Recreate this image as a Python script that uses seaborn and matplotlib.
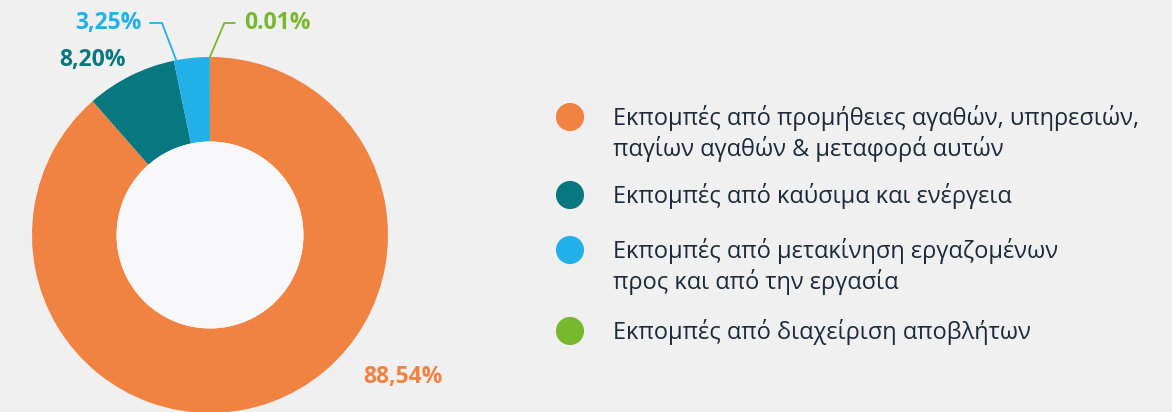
import numpy as np
import matplotlib.pyplot as plt
import seaborn as sns
from matplotlib.patches import Circle

# δεδομένα
categories = [
    "Εκπομπές από προμήθειες αγαθών, υπηρεσιών,\nπαγίων αγαθών & μεταφορά αυτών",
    "Εκπομπές από καύσιμα και ενέργεια",
    "Εκπομπές από μετακίνηση εργαζομένων\nπρος και από την εργασία",
    "Εκπομπές από διαχείριση αποβλήτων",
]
values = [88.54, 8.20, 3.25, 0.01]
value_labels = ["88,54%", "8,20%", "3,25%", "0.01%"]
colors = ["#f08341", "#077880", "#21b0e8", "#78b82d"]

sns.set_theme(style="white")
plt.rcParams["font.family"] = ["Open Sans", "Noto Sans", "DejaVu Sans"]

W, H = 1172, 412
bg = "#f0f0f0"
fig = plt.figure(figsize=(W / 100, H / 100), dpi=100, facecolor=bg)

# donut: κέντρο (210, 235) px, ακτίνα 178 px
cx, cy, R = 210, 235, 178
ax = fig.add_axes([(cx - R) / W, (H - cy - R) / H, 2 * R / W, 2 * R / H])
ax.set_facecolor(bg)
wedges, _ = ax.pie(values, colors=colors, startangle=90, counterclock=False,
                   radius=1, wedgeprops=dict(width=0.475, linewidth=0))
ax.add_patch(Circle((0, 0), 1 - 0.475, facecolor="#f8f8fa", edgecolor="none"))
ax.set_xlim(-1, 1)
ax.set_ylim(-1, 1)
ax.axis("off")

# γωνίες σφηνών (από την κορυφή, δεξιόστροφα)
cum = np.cumsum([0] + values) / sum(values) * 360


def edge_point(angle_cw):
    a = np.deg2rad(90 - angle_cw)
    return np.cos(a), np.sin(a)


lbl = dict(fontsize=16.5, fontweight="bold", ha="center", va="center")

# ετικέτες ποσοστών
fig.text(403 / W, 1 - 377 / H, value_labels[0], color=colors[0], **lbl)
fig.text(92 / W, 1 - 60 / H, value_labels[1], color=colors[1], **lbl)

ax.annotate(value_labels[2], xy=edge_point(cum[2] + 0.8), xycoords="data",
            xytext=(108, H - 23), textcoords="figure pixels", color=colors[2], **lbl,
            arrowprops=dict(arrowstyle="-", color=colors[2], lw=1.3,
                            connectionstyle="angle,angleA=0,angleB=111,rad=0",
                            shrinkA=4, shrinkB=0))
ax.annotate(value_labels[3], xy=edge_point(cum[3]), xycoords="data",
            xytext=(277, H - 23), textcoords="figure pixels", color=colors[3], **lbl,
            arrowprops=dict(arrowstyle="-", color=colors[3], lw=1.3,
                            connectionstyle="angle,angleA=180,angleB=67,rad=0",
                            shrinkA=4, shrinkB=0))

# υπόμνημα
leg = fig.add_axes([0, 0, 1, 1])
leg.set_xlim(0, W)
leg.set_ylim(H, 0)
leg.axis("off")
leg.patch.set_alpha(0)
marker_y = [117, 195, 250, 331]
leg.scatter([570] * 4, marker_y, s=410, c=colors, linewidths=0)
for lab, y in zip(categories, marker_y):
    for i, line in enumerate(lab.split("\n")):
        leg.text(613, y + 8 + i * 31, line, fontsize=17, color="#1c2a39",
                 ha="left", va="baseline")

fig.savefig("out.png", dpi=100, facecolor=bg)
